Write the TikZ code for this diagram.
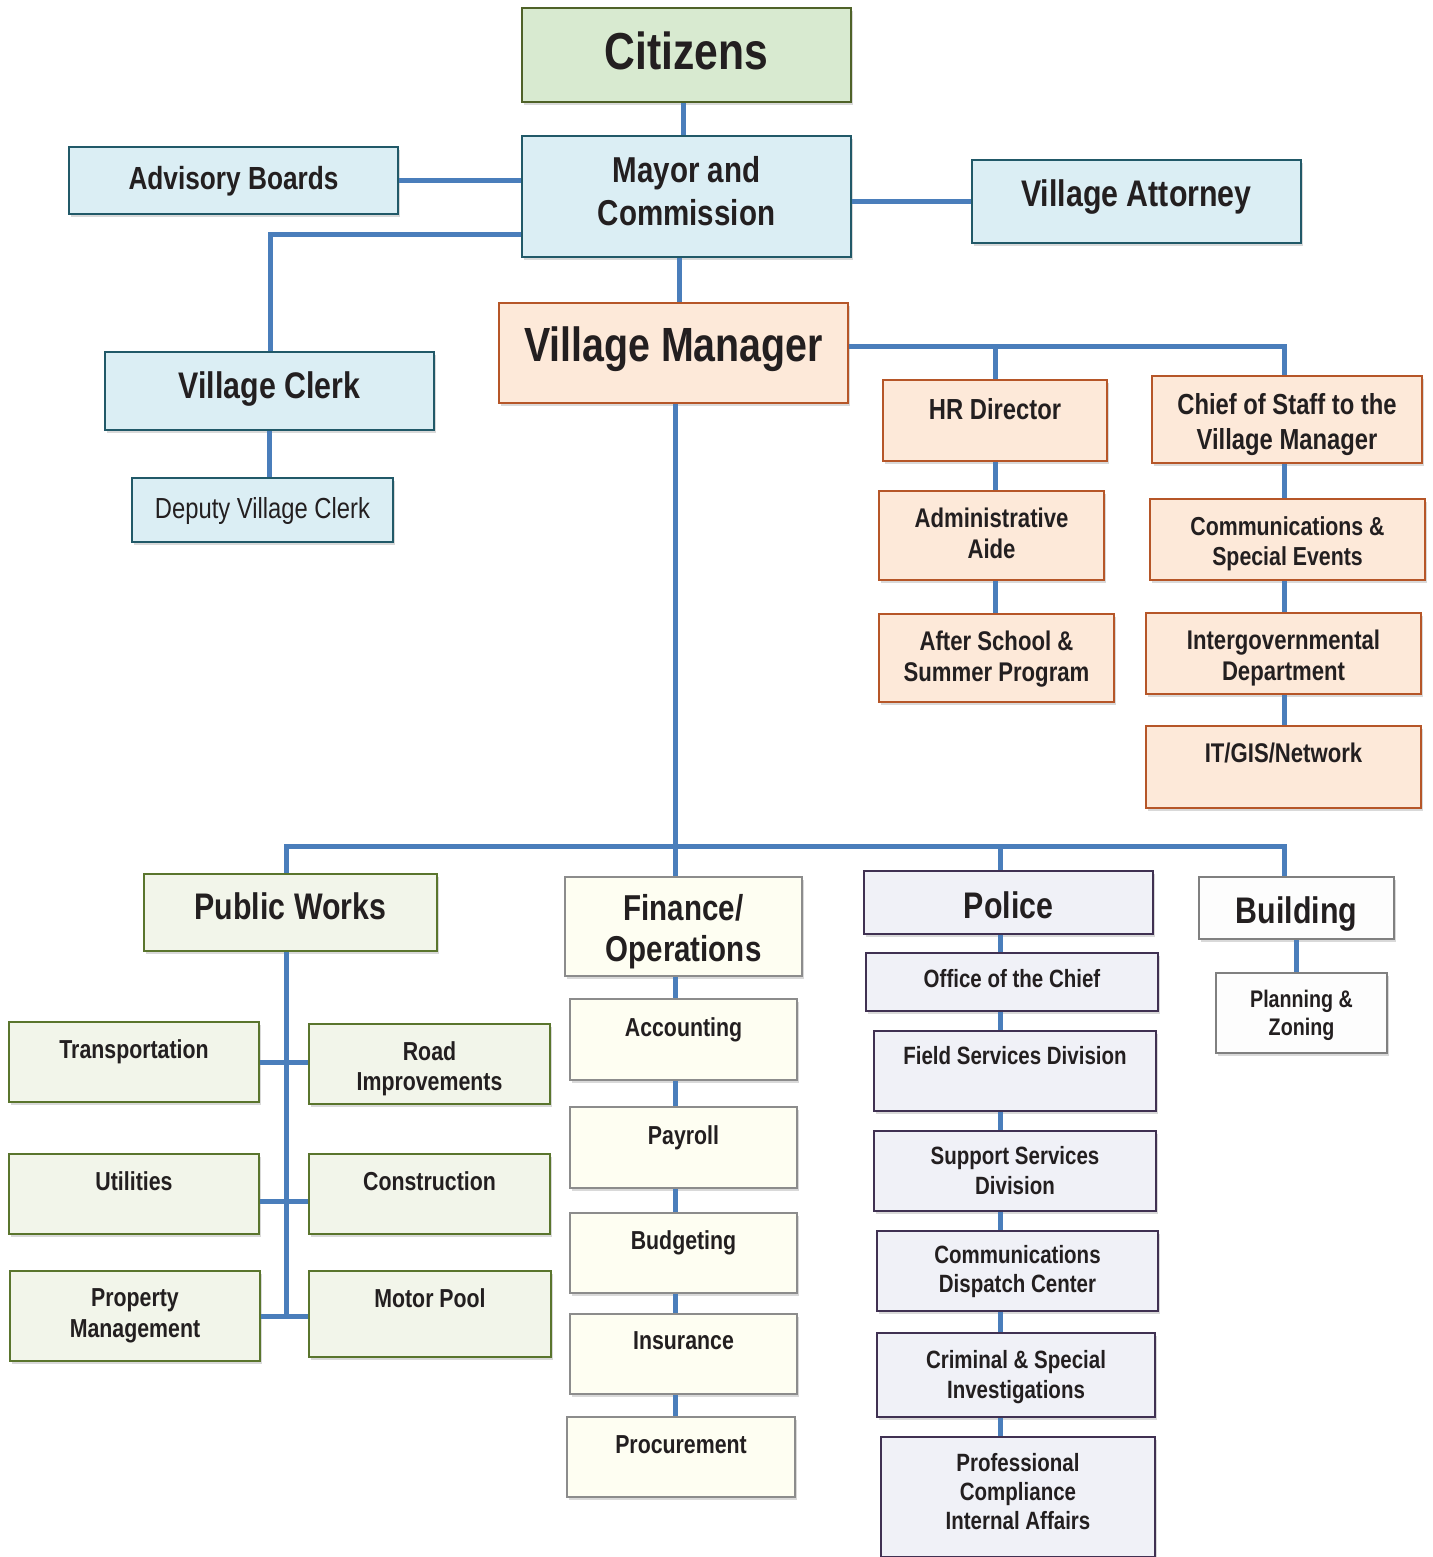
\documentclass[tikz,border=0pt]{standalone}
\usepackage{fontspec}
\newfontfamily\narrow{Liberation Sans}[FakeStretch=0.82]
\usetikzlibrary{shadows}

\definecolor{linkblue}{RGB}{74,126,187}
\definecolor{textgray}{RGB}{35,31,32}
\definecolor{citfill}{RGB}{216,234,208}
\definecolor{citline}{RGB}{79,98,40}
\definecolor{govfill}{RGB}{219,238,244}
\definecolor{govline}{RGB}{33,89,104}
\definecolor{mgrfill}{RGB}{253,233,217}
\definecolor{mgrline}{RGB}{182,86,40}
\definecolor{pwfill}{RGB}{242,245,234}
\definecolor{pwline}{RGB}{90,117,45}
\definecolor{finfill}{RGB}{254,254,242}
\definecolor{finline}{RGB}{140,140,140}
\definecolor{polfill}{RGB}{240,241,247}
\definecolor{polline}{RGB}{64,49,82}
\definecolor{bldfill}{RGB}{253,253,253}
\definecolor{bldline}{RGB}{128,128,128}

\tikzset{
  box/.style={rectangle, draw, line width=2.5,
    drop shadow={shadow xshift=2pt, shadow yshift=-3pt, opacity=0.3}},
  citbox/.style={box, fill=citfill, draw=citline},
  govbox/.style={box, fill=govfill, draw=govline},
  mgrbox/.style={box, fill=mgrfill, draw=mgrline},
  pwbox/.style={box, fill=pwfill, draw=pwline},
  finbox/.style={box, fill=finfill, draw=finline},
  polbox/.style={box, fill=polfill, draw=polline},
  bldbox/.style={box, fill=bldfill, draw=bldline},
  unittext/.style={align=center, inner sep=0, text=textgray},
  fs/.style 2 args={font=\narrow\bfseries\fontsize{#1}{#2}\selectfont},
  fr/.style 2 args={font=\narrow\fontsize{#1}{#2}\selectfont},
  link/.style={line width=5, draw=linkblue}
}

% box style, font, name, x1, y1, x2, y2, text y, text
\newcommand{\orgunit}[9]{
  \node[#1, minimum width={#6-#4}, minimum height={#7-#5}] (#3)
    at ({(#4+#6)/2},{(#5+#7)/2}) {};
  \node[unittext, #2] (#3-t) at ({(#4+#6)/2},#8) {#9};
}

\begin{document}
\begin{tikzpicture}[x=1pt, y=-1pt]
  \useasboundingbox (0,0) rectangle (1432,1557);

  % top
  \orgunit{citbox}{fs={52}{60}}{cit}{522}{8}{851}{102}{51}{Citizens}
  \orgunit{govbox}{fs={36}{43}}{mayor}{522}{136}{851}{257}{191}{Mayor and\\Commission}
  \orgunit{govbox}{fs={32}{38}}{adv}{69}{147}{398}{214}{181}{Advisory Boards}
  \orgunit{govbox}{fs={37}{42}}{att}{972}{160}{1301}{243}{197}{Village Attorney}
  \orgunit{govbox}{fs={37}{42}}{clerk}{105}{352}{434}{430}{389}{Village Clerk}
  \orgunit{govbox}{fr={29}{34}}{dep}{132}{478}{393}{542}{511}{Deputy Village Clerk}

  % manager and staff
  \orgunit{mgrbox}{fs={48}{55}}{vm}{499}{303}{848}{403}{349}{Village Manager}
  \orgunit{mgrbox}{fs={29}{34}}{hr}{883}{380}{1107}{461}{409}{HR Director}
  \orgunit{mgrbox}{fs={27}{31}}{aide}{879}{491}{1104}{580}{533}{Administrative\\Aide}
  \orgunit{mgrbox}{fs={27}{31}}{after}{879}{614}{1114}{702}{659}{After School \&\\Summer Program}
  \orgunit{mgrbox}{fs={29}{35}}{cos}{1152}{376}{1422}{463}{425}{Chief of Staff to the\\Village Manager}
  \orgunit{mgrbox}{fs={26}{30}}{comm}{1150}{499}{1425}{580}{544}{Communications \&\\Special Events}
  \orgunit{mgrbox}{fs={27}{31}}{inter}{1146}{613}{1421}{694}{658}{Intergovernmental\\Department}
  \orgunit{mgrbox}{fs={27}{31}}{it}{1146}{726}{1421}{808}{753}{IT/GIS/Network}

  % public works
  \orgunit{pwbox}{fs={37}{42}}{pw}{144}{874}{437}{951}{906}{Public Works}
  \orgunit{pwbox}{fs={26}{30}}{trans}{9}{1022}{259}{1102}{1052}{Transportation}
  \orgunit{pwbox}{fs={26}{30}}{road}{309}{1024}{550}{1104}{1069}{Road\\Improvements}
  \orgunit{pwbox}{fs={26}{30}}{util}{9}{1154}{259}{1234}{1181}{Utilities}
  \orgunit{pwbox}{fs={26}{30}}{cons}{309}{1154}{550}{1234}{1181}{Construction}
  \orgunit{pwbox}{fs={26}{31}}{prop}{10}{1271}{260}{1361}{1316}{Property\\Management}
  \orgunit{pwbox}{fs={26}{30}}{motor}{309}{1271}{551}{1357}{1298}{Motor Pool}

  % finance
  \orgunit{finbox}{fs={36}{41}}{fin}{565}{877}{802}{976}{932}{Finance/\\Operations}
  \orgunit{finbox}{fs={26}{30}}{acc}{570}{999}{797}{1080}{1030}{Accounting}
  \orgunit{finbox}{fs={26}{30}}{pay}{570}{1107}{797}{1188}{1138}{Payroll}
  \orgunit{finbox}{fs={26}{30}}{bud}{570}{1213}{797}{1293}{1243}{Budgeting}
  \orgunit{finbox}{fs={26}{30}}{ins}{570}{1314}{797}{1394}{1341}{Insurance}
  \orgunit{finbox}{fs={26}{30}}{proc}{567}{1417}{795}{1497}{1445}{Procurement}

  % police
  \orgunit{polbox}{fs={37}{42}}{pol}{864}{871}{1153}{934}{905}{Police}
  \orgunit{polbox}{fs={25}{29}}{chief}{866}{953}{1158}{1011}{979}{Office of the Chief}
  \orgunit{polbox}{fs={25}{29}}{field}{874}{1031}{1156}{1111}{1056}{Field Services Division}
  \orgunit{polbox}{fs={25}{30}}{supp}{874}{1131}{1156}{1211}{1171}{Support Services\\Division}
  \orgunit{polbox}{fs={25}{29}}{disp}{877}{1231}{1158}{1311}{1272}{Communications\\Dispatch Center}
  \orgunit{polbox}{fs={25}{30}}{crim}{877}{1333}{1155}{1417}{1377}{Criminal \& Special\\Investigations}
  \orgunit{polbox}{fs={25}{29}}{prof}{881}{1437}{1155}{1557}{1492}{Professional\\Compliance\\Internal Affairs}

  % building
  \orgunit{bldbox}{fs={37}{42}}{bld}{1199}{877}{1394}{939}{914}{Building}
  \orgunit{bldbox}{fs={24}{28}}{plan}{1216}{973}{1387}{1053}{1015}{Planning \&\\Zoning}

  % routing points
  \coordinate (citx) at (683,0);
  \coordinate (clerkbus) at (270,234);
  \coordinate (mayx) at (679,0);
  \coordinate (vmbus) at (1284,346);
  \coordinate (hrx) at (995,0);
  \coordinate (mainbus) at (675,846);
  \coordinate (busW) at (286,846);
  \coordinate (busE) at (1284,846);
  \coordinate (polx) at (1000,0);
  \coordinate (utily) at (0,1201);

  % connectors
  \draw[link] (citx |- cit.south) -- (citx |- mayor.north);
  \draw[link] (adv.east) -- (adv.east -| mayor.west);
  \draw[link] (att.west) -- (att.west -| mayor.east);
  \draw[link] (mayor.west |- clerkbus) -- (clerkbus) -- (clerkbus |- clerk.north);
  \draw[link] (clerk.south) -- (clerk.south |- dep.north);
  \draw[link] (mayx |- mayor.south) -- (mayx |- vm.north);

  \draw[link] (vm.east |- vmbus) -- (vmbus) -- (vmbus |- cos.north);
  \draw[link] (hrx |- vmbus) -- (hrx |- hr.north);
  \foreach \a/\b in {hr/aide, aide/after}
    \draw[link] (hrx |- \a.south) -- (hrx |- \b.north);
  \foreach \a/\b in {cos/comm, comm/inter, inter/it}
    \draw[link] (vmbus |- \a.south) -- (vmbus |- \b.north);

  \draw[link] (mainbus |- vm.south) -- (mainbus);
  \draw[link] (busW |- pw.north) -- (busW) -- (busE) -- (busE |- bld.north);
  \draw[link] (mainbus) -- (mainbus |- fin.north);
  \draw[link] (polx |- busE) -- (polx |- pol.north);

  \draw[link] (busW |- pw.south) -- (busW |- prop.east);
  \draw[link] (trans.east) -- (trans.east -| road.west);
  \draw[link] (util.east |- utily) -- (cons.west |- utily);
  \draw[link] (prop.east) -- (prop.east -| motor.west);
  \foreach \a/\b in {fin/acc, acc/pay, pay/bud, bud/ins, ins/proc}
    \draw[link] (mainbus |- \a.south) -- (mainbus |- \b.north);
  \foreach \a/\b in {pol/chief, chief/field, field/supp, supp/disp, disp/crim, crim/prof}
    \draw[link] (polx |- \a.south) -- (polx |- \b.north);
  \draw[link] (bld.south) -- (bld.south |- plan.north);
\end{tikzpicture}
\end{document}
